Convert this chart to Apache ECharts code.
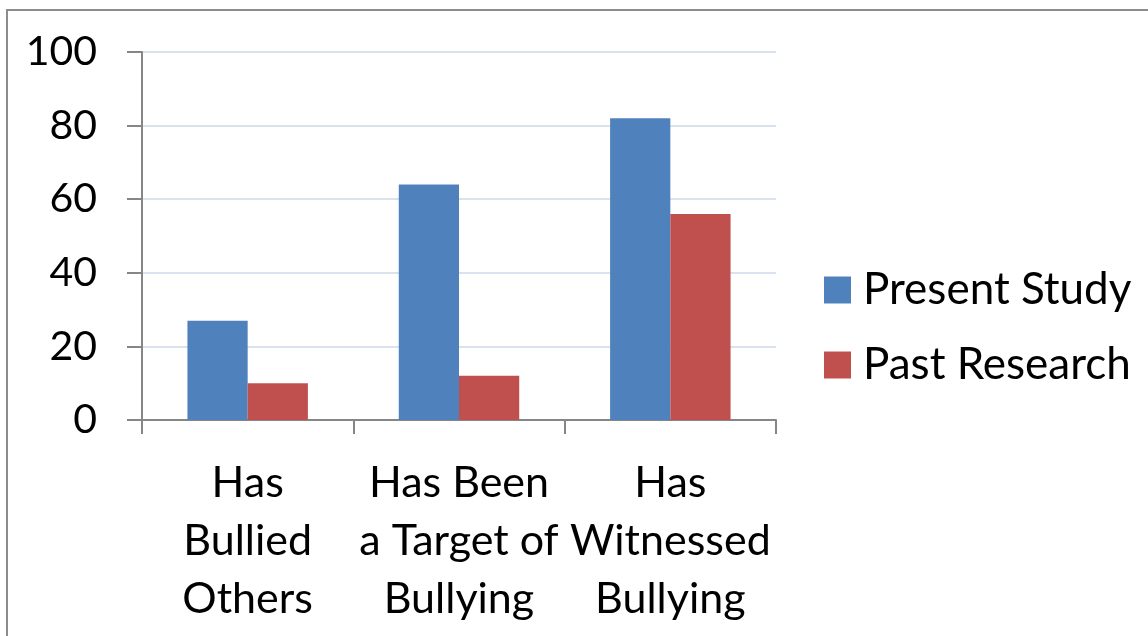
<!DOCTYPE html>
<html>
<head>
<meta charset="utf-8">
<script src="https://cdn.jsdelivr.net/npm/echarts@6/dist/echarts.min.js"></script>
<style>
  html, body { margin: 0; padding: 0; background: #fff; }
  #app { width: 1148px; height: 636px; }
</style>
</head>
<body>
<div id="app"></div>
<script>
    var categories = ['Has\nBullied\nOthers', 'Has Been\na Target of\nBullying', 'Has\nWitnessed\nBullying'];
    var presentStudy = [27, 64, 82];
    var pastResearch = [10, 12, 56];
    var seriesNames = ['Present Study', 'Past Research'];

    var font = 'Lato, "Open Sans", sans-serif';

    var myChart = echarts.init(document.getElementById('app'));
    var option = {
        animation: false,
        backgroundColor: '#fff',
        graphic: [{
            type: 'rect',
            shape: { x: 7, y: 10, width: 1160, height: 640 },
            style: { fill: 'none', stroke: '#8c8c8c', lineWidth: 2 },
            silent: true
        }],
        grid: { left: 142, right: 372, top: 52, bottom: 216 },
        legend: {
            orient: 'vertical',
            left: 819,
            top: 263,
            itemWidth: 27,
            itemHeight: 27,
            itemGap: 31,
            icon: 'rect',
            data: seriesNames,
            textStyle: { fontFamily: font, fontSize: 44, color: '#000', padding: [0, 0, 0, 7] }
        },
        xAxis: {
            type: 'category',
            data: categories,
            axisLine: { lineStyle: { color: '#868686', width: 2 } },
            axisTick: { show: true, length: 14, lineStyle: { color: '#868686', width: 2 } },
            axisLabel: {
                interval: 0,
                margin: 34,
                fontFamily: font,
                fontSize: 43,
                lineHeight: 58,
                color: '#000',
                align: 'center'
            }
        },
        yAxis: {
            type: 'value',
            min: 0,
            max: 100,
            interval: 20,
            axisLine: { show: true, lineStyle: { color: '#868686', width: 2 } },
            axisTick: { show: true, length: 15, lineStyle: { color: '#868686', width: 2 } },
            splitLine: { lineStyle: { color: '#d9e3ef', width: 2 } },
            axisLabel: { margin: 45, fontFamily: font, fontSize: 41, color: '#000' }
        },
        series: [
            {
                name: seriesNames[0],
                type: 'bar',
                data: presentStudy,
                barGap: '0%',
                barCategoryGap: '43%',
                itemStyle: { color: '#4f81bd' }
            },
            {
                name: seriesNames[1],
                type: 'bar',
                data: pastResearch,
                itemStyle: { color: '#c0504d' }
            }
        ]
    };
    myChart.setOption(option);
</script>
</body>
</html>
